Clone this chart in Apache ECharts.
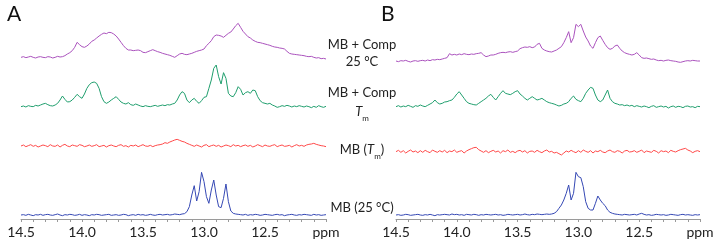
<!DOCTYPE html>
<html>
<head>
<meta charset="utf-8">
<script src="https://cdn.jsdelivr.net/npm/echarts@6/dist/echarts.min.js"></script>
<style>
  html, body { margin: 0; padding: 0; background: #fff; }
  #nmr { width: 719px; height: 243px; }
</style>
</head>
<body>
<div id="nmr"></div>
<script>
// chemical shift of first sample and sample spacing (ppm)
var ppmStart = 14.5;
var ppmStep = 0.02;
var ppmTicks = [14.5, 14.0, 13.5, 13.0, 12.5, 12.0];

// intensities above each trace's own baseline
var aComp25 = [
  0, 2, -1, 1, 3, 0, -2, 1, 2, 0,
  -1, 2, 1, -2, 0, 3, 1, 2, 5, 10,
  14, 20, 30, 45, 38, 32, 30, 34, 40, 48,
  52, 58, 64, 69, 73, 71, 75, 74, 70, 64,
  55, 45, 35, 27, 22, 22, 20, 21, 22, 20,
  15, 14, 17, 20, 23, 20, 17, 15, 12, 10,
  8, 6, 3, 0, 5, 10, 12, 9, 8, 10,
  12, 15, 18, 20, 22, 25, 35, 42, 50, 62,
  67, 66, 64, 60, 66, 72, 76, 85, 95, 102,
  90, 78, 70, 62, 58, 52, 48, 45, 44, 42,
  40, 38, 36, 33, 31, 30, 28, 27, 25, 18,
  12, 10, 9, 8, 7, 6, 5, 3, 2, 3,
  0, -2, -1, -4, -3, -5
];
var aCompTm = [
  0, 2, -1, 3, 1, 0, 4, 2, 5, 8,
  10, 6, 3, 2, 5, 10, 20, 32, 22, 14,
  15, 20, 28, 37, 30, 25, 38, 55, 66, 72,
  74, 70, 55, 30, 15, 10, 14, 20, 25, 30,
  22, 14, 10, 8, 12, 6, 4, 8, 5, 2,
  0, 3, 1, 0, 2, 4, 1, 3, 5, 3,
  6, 5, 8, 10, 20, 35, 45, 40, 20, 12,
  20, 25, 16, 10, 18, 28, 30, 55, 80, 115,
  125, 90, 68, 102, 85, 40, 32, 30, 42, 60,
  52, 35, 42, 45, 40, 50, 48, 30, 18, 12,
  10, 8, 10, 5, 2, -2, 0, 3, 1, 4,
  2, -1, 2, 0, 3, 1, -1, 2, 0, -3,
  1, -2, 3, 0, -2, 1
];
var aMBTm = [
  0, 3, -2, 1, 4, -1, 2, -3, 0, 3,
  1, -2, 4, 0, -1, 3, -3, 2, 5, 0,
  -2, 3, 1, -1, 4, 2, -2, 0, 3, -1,
  1, 4, -2, 0, 2, -3, 1, 3, 0, -2,
  2, 4, -1, 1, -3, 2, 0, 3, -2, 1,
  4, 0, -1, 2, -2, 1, 3, 4, 6, 10,
  8, 12, 15, 18, 20, 17, 14, 12, 8, 5,
  2, -1, 3, 0, -3, 2, 4, -2, 1, 3,
  -1, 2, -3, 0, 3, 1, -2, 4, 0, 2,
  -2, 1, 3, -1, 2, -3, 0, 4, 1, -2,
  3, 0, -1, 2, 4, -2, 1, 3, -1, 0,
  2, -3, 1, 4, 0, 2, -1, 3, 5, 6,
  8, 5, 3, 1, 0, -2
];
var aMB25 = [
  0, 1, -1, 2, 0, -2, 1, 0, 2, -1,
  1, 2, 0, -1, 1, 3, 0, -2, 1, 0,
  2, 1, -1, 0, 2, -1, 1, 0, -2, 1,
  0, 2, 1, -1, 0, 1, 2, -1, 0, 1,
  -1, 0, 2, 1, -2, 0, 1, -1, 2, 0,
  1, -1, 0, 2, 0, -1, 1, 2, 0, 1,
  2, 0, 1, 3, 2, 1, 3, 4, 10, 25,
  60, 88, 42, 70, 128, 100, 55, 35, 75, 105,
  60, 25, 22, 50, 93, 40, 12, 5, 3, 2,
  1, 0, 2, -1, 1, 0, 2, 1, -1, 0,
  2, 1, 0, -1, 1, 2, 0, 1, -2, 0,
  1, 2, 0, -1, 1, 0, 2, 1, 0, -1,
  2, 0, 1, -1, 0, 1
];

var bComp25 = [
  0, -2, 1, 0, 2, -1, -3, 0, 1, -1,
  1, 2, 0, 3, 1, 4, 3, 5, 4, 6,
  8, 10, 22, 18, 20, 18, 21, 19, 22, 20,
  19, 21, 20, 22, 23, 25, 18, 13, 15, 18,
  18, 20, 23, 25, 26, 25, 27, 28, 26, 28,
  30, 37, 40, 42, 41, 43, 40, 42, 50, 53,
  38, 33, 30, 28, 27, 30, 33, 38, 43, 55,
  70, 88, 55, 70, 110, 103, 110, 90, 72, 60,
  45, 38, 55, 70, 75, 62, 50, 40, 35, 38,
  45, 48, 38, 30, 25, 22, 20, 18, 20, 25,
  18, 10, 8, 9, 7, 5, 6, 3, 1, 2,
  0, 2, 3, 1, 0, -1, -3, -4, -2, 0,
  1, 0, 2, 1, 0, 0
];
var bCompTm = [
  0, 3, -1, 2, 0, 4, 1, -2, 3, 1,
  5, 2, 0, 4, 8, 12, 20, 12, 8, 10,
  14, 15, 18, 20, 28, 38, 45, 35, 25, 15,
  10, 8, 6, 5, 10, 15, 20, 25, 32, 37,
  28, 20, 30, 40, 48, 40, 38, 36, 40, 45,
  48, 38, 32, 25, 20, 25, 30, 25, 20, 22,
  25, 20, 15, 12, 10, 8, 5, 2, 4, 8,
  10, 15, 25, 32, 22, 18, 15, 25, 40, 50,
  58, 55, 35, 20, 15, 20, 35, 50, 25, 15,
  10, 8, 5, 6, 3, 5, 2, 4, 0, 3,
  1, -1, 2, 0, -3, 1, 3, -2, 0, 2,
  -1, 1, -4, 0, 2, -2, 1, 0, -3, 1,
  2, -1, 0, -3, 1, 0
];
var bMBTm = [
  0, 4, -2, 3, -4, 1, 5, -1, 2, -3,
  3, -2, 4, 0, -3, 5, 1, -2, 3, -1,
  4, -3, 2, 0, 5, -2, 1, 3, -4, 2,
  6, 9, 12, 13, 6, 2, -2, 3, -3, 1,
  4, -1, 2, -4, 3, 0, 5, -2, 1, -3,
  2, 4, -1, 3, -4, 1, 2, -2, 4, 0,
  -3, 2, 5, -1, 1, -4, -2, -6, -10, -4,
  2, -1, 4, 0, -3, 3, -2, 5, 1, -2,
  3, -4, 2, 0, 4, -1, -3, 2, 5, 0,
  -2, 3, 1, -4, 2, 4, -1, 0, 3, -2,
  1, 5, -3, 2, 0, -2, 4, 1, -4, 3,
  0, 2, -3, 4, 1, -1, 3, 6, 8, 10,
  5, 2, -3, 1, 3, 0
];
var bMB25 = [
  0, 1, -1, 0, 2, 1, -1, 0, 1, 2,
  0, -1, 1, 0, 2, 0, -2, 1, 0, 1,
  2, 1, 0, 3, 1, 2, 0, 1, -1, 2,
  1, 0, 2, 1, -1, 1, 0, 2, 1, 0,
  1, 2, 0, 1, -1, 0, 2, 1, 0, 1,
  2, 0, 1, 3, 1, 0, 2, 1, 3, 2,
  1, 2, 3, 2, 3, 5, 10, 20, 30, 45,
  65, 90, 45, 65, 128, 115, 112, 85, 40, 20,
  15, 15, 35, 57, 45, 35, 28, 15, 8, 5,
  3, 2, 1, 0, 2, 1, 0, 1, 2, 0,
  3, 5, 2, 0, 1, -1, 0, 2, 1, 0,
  1, -1, 0, 2, 1, 0, -1, 1, 2, 0,
  1, 0, -1, 1, 0, 1
];

var traceNames = ['MB + Comp 25 °C', 'MB + Comp Tm', 'MB (Tm)', 'MB (25 °C)'];
var traceColors = ['#aa52bd', '#1f9e6d', '#ff4848', '#3548b4'];
// vertical stacking offsets of each trace (same units as y axis)
var offsetsA = [485, 337, 219, 12];
var offsetsB = [474, 337, 202, 12];

var chart = echarts.init(document.getElementById('nmr'));

function toPairs(values, offset) {
  return values.map(function (v, i) {
    return [+(ppmStart - i * ppmStep).toFixed(2), v + offset];
  });
}

function makeXAxis(gridIndex) {
  return {
    type: 'value',
    gridIndex: gridIndex,
    inverse: true,
    min: 12,
    max: 14.5,
    interval: 0.5,
    axisLine: { lineStyle: { color: '#9a9a9a', width: 1 } },
    axisTick: { show: true, length: 3, lineStyle: { color: '#9a9a9a' } },
    minorTick: { show: true, splitNumber: 5, length: 3, lineStyle: { color: '#9a9a9a' } },
    splitLine: { show: false },
    axisLabel: {
      margin: 6,
      fontSize: 14,
      color: '#222',
      fontFamily: 'Lato',
      showMinLabel: true,
      showMaxLabel: true,
      formatter: function (v) {
        if (ppmTicks.indexOf(v) < 0) return '';
        return v === 12 ? 'ppm' : v.toFixed(1);
      }
    }
  };
}

function makeYAxis(gridIndex) {
  return { type: 'value', gridIndex: gridIndex, min: 0, max: 657, show: false };
}

var series = [];
[[aComp25, aCompTm, aMBTm, aMB25], [bComp25, bCompTm, bMBTm, bMB25]].forEach(function (set, p) {
  var offs = p === 0 ? offsetsA : offsetsB;
  set.forEach(function (vals, k) {
    series.push({
      name: traceNames[k],
      type: 'line',
      xAxisIndex: p,
      yAxisIndex: p,
      data: toPairs(vals, offs[k]),
      showSymbol: false,
      symbol: 'none',
      lineStyle: { color: traceColors[k], width: 1 },
      silent: true
    });
  });
});

var labelFont = 'Lato';
var option = {
  animation: false,
  grid: [
    { left: 21, width: 305, top: 0, bottom: 24 },
    { left: 396, width: 304, top: 0, bottom: 24 }
  ],
  xAxis: [makeXAxis(0), makeXAxis(1)],
  yAxis: [makeYAxis(0), makeYAxis(1)],
  series: series,
  graphic: [
    { type: 'text', left: 7, top: 4, style: { text: 'A', fontSize: 21, fontFamily: labelFont, fill: '#111' } },
    { type: 'text', left: 381, top: 4, style: { text: 'B', fontSize: 21, fontFamily: labelFont, fill: '#111' } },
    { type: 'text', x: 362, y: 45, style: { text: 'MB + Comp', fontSize: 13, fontFamily: labelFont, fill: '#222', align: 'center', verticalAlign: 'middle' } },
    { type: 'text', x: 362, y: 62, style: { text: '25 °C', fontSize: 13, fontFamily: labelFont, fill: '#222', align: 'center', verticalAlign: 'middle' } },
    { type: 'text', x: 362, y: 93, style: { text: 'MB + Comp', fontSize: 13, fontFamily: labelFont, fill: '#222', align: 'center', verticalAlign: 'middle' } },
    { type: 'text', x: 362, y: 112, style: {
      text: '{i|T}{s|m}', fontFamily: labelFont, fill: '#222', align: 'center', verticalAlign: 'middle',
      rich: {
        i: { fontSize: 13, fontStyle: 'italic', fontFamily: labelFont, fill: '#222', lineHeight: 20 },
        s: { fontSize: 8, fontFamily: labelFont, fill: '#222', verticalAlign: 'bottom', lineHeight: 9 }
      }
    } },
    { type: 'text', x: 362, y: 150, style: {
      text: '{n|MB (}{i|T}{s|m}{n|)}', fontFamily: labelFont, fill: '#222', align: 'center', verticalAlign: 'middle',
      rich: {
        n: { fontSize: 13, fontFamily: labelFont, fill: '#222', lineHeight: 20 },
        i: { fontSize: 13, fontStyle: 'italic', fontFamily: labelFont, fill: '#222', lineHeight: 20 },
        s: { fontSize: 8, fontFamily: labelFont, fill: '#222', verticalAlign: 'bottom', lineHeight: 9 }
      }
    } },
    { type: 'text', x: 362, y: 208, style: { text: 'MB (25 °C)', fontSize: 13, fontFamily: labelFont, fill: '#222', align: 'center', verticalAlign: 'middle' } }
  ]
};

chart.setOption(option);
</script>
</body>
</html>
